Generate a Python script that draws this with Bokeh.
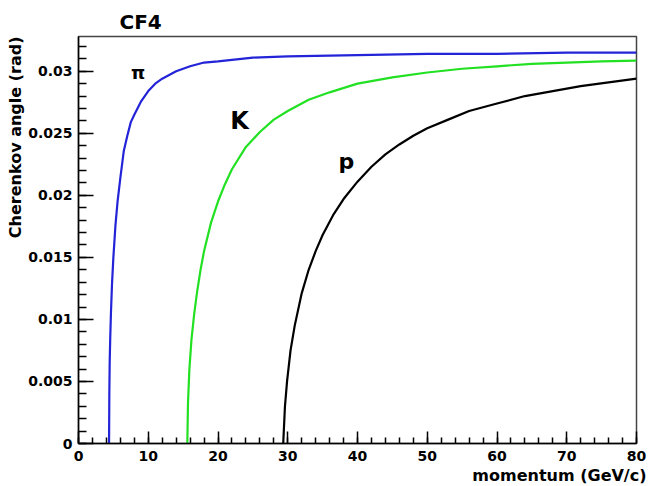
from bokeh.plotting import figure
from bokeh.models import Label, SingleIntervalTicker, CustomJSTickFormatter, Range1d, Title
from bokeh.embed import file_html
from bokeh.resources import INLINE

# ---- data ----
pi_p = [4.38, 4.42, 4.47, 4.55, 4.65, 4.8, 5.0, 5.3, 5.6, 6.0, 6.5, 7.0, 7.5, 8.0, 9.0,
        10, 11, 12, 14, 16, 18, 20, 25, 30, 40, 50, 60, 70, 80]
pi_theta = [0.0, 0.004, 0.0065, 0.0085, 0.0105, 0.0128, 0.015, 0.0176, 0.0195, 0.0214,
            0.0236, 0.0248, 0.0259, 0.0265, 0.0276, 0.0284, 0.029, 0.0294, 0.03, 0.0304,
            0.0307, 0.0308, 0.0311, 0.0312, 0.0313, 0.0314, 0.0314, 0.0315, 0.0315]

k_p = [15.6, 15.7, 15.9, 16.2, 16.6, 17, 17.5, 18, 19, 20, 21, 22, 24, 26, 28, 30, 33,
       36, 40, 45, 50, 55, 60, 65, 70, 75, 80]
k_theta = [0.0, 0.0033, 0.006, 0.0084, 0.0105, 0.0122, 0.014, 0.0155, 0.0178, 0.0195,
           0.0209, 0.0221, 0.0239, 0.0251, 0.0261, 0.0268, 0.0277, 0.0283, 0.029, 0.0295,
           0.0299, 0.0302, 0.0304, 0.0306, 0.0307, 0.0308, 0.03085]

pr_p = [29.35, 29.6, 29.9, 30.4, 31, 32, 33, 34, 35, 36.5, 38, 40, 42, 44, 46, 48, 50,
        53, 56, 60, 64, 68, 72, 76, 80]
pr_theta = [0.0, 0.003, 0.005, 0.0075, 0.0095, 0.0121, 0.014, 0.0155, 0.0168, 0.0184,
            0.0197, 0.0211, 0.0223, 0.0233, 0.0241, 0.0248, 0.0254, 0.0261, 0.0268,
            0.0274, 0.028, 0.0284, 0.0288, 0.0291, 0.0294]

title_text = "CF4"
x_title = "momentum (GeV/c)"
y_title = "Cherenkov angle (rad)"
curve_names = ["π", "K", "p"]

FONT = "DejaVu Sans"

p = figure(width=648, height=486, output_backend="svg", toolbar_location=None,
           x_range=Range1d(0, 80), y_range=Range1d(0, 0.0328),
           min_border_left=78, min_border_right=12, min_border_top=36, min_border_bottom=43)
p.grid.visible = False
p.background_fill_color = "white"
p.border_fill_color = "white"
p.outline_line_color = "#444444"
p.outline_line_width = 1.5

fmt = CustomJSTickFormatter(code="return (Math.round(tick*1e6)/1e6).toString();")

xa = p.xaxis[0]
xa.ticker = SingleIntervalTicker(interval=10, num_minor_ticks=5)
xa.formatter = fmt
xa.major_tick_in = 12
xa.major_tick_out = 0
xa.minor_tick_in = 6
xa.minor_tick_out = 0
xa.major_label_standoff = 7

ya = p.yaxis[0]
ya.ticker = SingleIntervalTicker(interval=0.005, num_minor_ticks=5)
ya.formatter = fmt
ya.major_tick_in = 15
ya.major_tick_out = 0
ya.minor_tick_in = 8
ya.minor_tick_out = 0
ya.major_label_standoff = 6

for ax in (xa, ya):
    ax.axis_line_color = "black"
    ax.axis_line_width = 1.5
    ax.major_tick_line_color = "black"
    ax.minor_tick_line_color = "black"
    ax.major_tick_line_width = 1.5
    ax.minor_tick_line_width = 1.5
    ax.major_label_text_font = FONT
    ax.major_label_text_font_style = "bold"
    ax.major_label_text_font_size = "14px"
    ax.major_label_text_color = "black"

p.line(pi_p, pi_theta, line_color="#2323d8", line_width=2.2)
p.line(k_p, k_theta, line_color="#22e022", line_width=2.2)
p.line(pr_p, pr_theta, line_color="black", line_width=2.2)

def lab(x, y, t, size):
    p.add_layout(Label(x=x, y=y, text=t, text_font=FONT, text_font_style="bold",
                       text_font_size=size, text_align="center", text_baseline="alphabetic",
                       text_color="black"))

lab(8.53, 0.0299, curve_names[0], "18px")
lab(23.1, 0.0260, curve_names[1], "24px")
lab(38.4, 0.0227, curve_names[2], "22px")

def side_title(text, size, align, offset, standoff):
    return Title(text=text, text_font=FONT, text_font_style="bold", text_font_size=size,
                 align=align, offset=offset, standoff=standoff, text_color="black")

p.add_layout(side_title(title_text, "20px", "left", 41, 6), "above")
p.add_layout(side_title(x_title, "16px", "right", -10, 0), "below")
p.add_layout(side_title(y_title, "16px", "right", 0, 2), "left")

open("out.html", "w").write(file_html(p, INLINE))
